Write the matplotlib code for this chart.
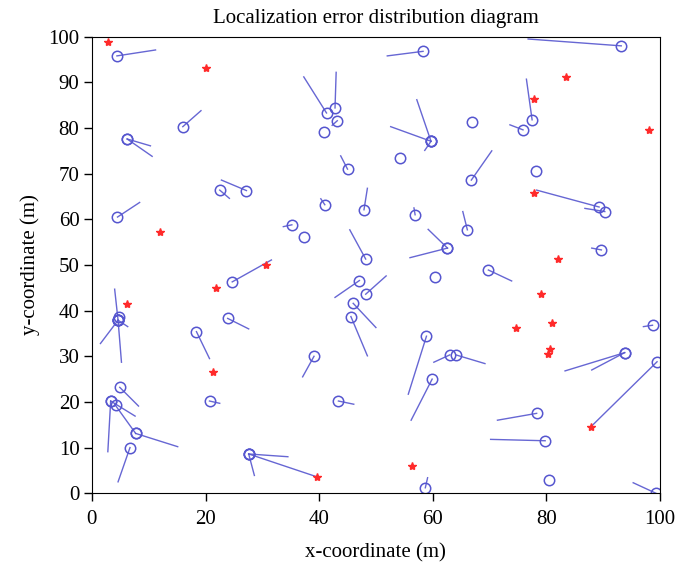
import matplotlib
matplotlib.use('Agg')
import matplotlib.pyplot as plt

# unknown nodes: true position -> estimated position (one entry per error line)
node_x = [4.4, 6.2, 6.2, 16.0, 58.3, 41.3, 42.8, 43.2, 40.8, 59.7, 59.7, 59.7, 54.3, 45.0, 67.0,
          66.8, 93.2, 77.5, 75.9, 78.1, 22.5, 27.2, 4.5, 24.7, 23.9, 4.6, 4.6, 4.6, 4.6, 4.8, 18.4,
          41.0, 47.9, 35.2, 37.3, 56.9, 66.1, 48.2, 62.6, 62.6, 60.4, 47.1, 48.2, 46.0, 45.6,
          58.9, 89.3, 90.3, 89.7, 69.8, 98.7, 4.9, 3.3, 3.3, 4.2, 7.7, 7.7, 6.7, 20.7, 27.6,
          27.6, 27.6, 39.1, 43.4, 59.9, 63.0, 64.1, 58.7, 93.8, 93.8, 99.5, 78.3, 79.8, 80.5, 99.3]
node_y = [95.8, 77.6, 77.6, 80.3, 96.8, 83.3, 84.4, 81.6, 79.2, 77.1, 77.1, 77.1, 73.5, 71.0, 81.4,
          68.6, 98.0, 81.8, 79.6, 70.5, 66.4, 66.3, 60.5, 46.3, 38.3, 37.9, 37.9, 37.9, 37.9, 38.5, 35.4,
          63.2, 62.1, 58.8, 56.2, 61.0, 57.7, 51.3, 53.7, 53.7, 47.4, 46.6, 43.6, 41.6, 38.7,
          34.4, 62.7, 61.7, 53.3, 48.9, 36.8, 23.2, 20.2, 20.2, 19.3, 13.1, 13.1, 10.0, 20.2, 8.6,
          8.6, 8.6, 30.0, 20.2, 25.0, 30.3, 30.3, 1.2, 30.8, 30.8, 28.8, 17.5, 11.5, 3.0, 0.0]
est_x = [11.2, 10.6, 10.3, 19.2, 52.0, 37.3, 43.0, 42.3, 40.8, 52.6, 57.2, 58.6, 54.3, 43.8, 67.0,
         70.4, 76.8, 76.5, 73.6, 78.1, 24.2, 22.8, 8.4, 31.6, 27.6, 4.0, 5.2, 1.5, 6.3, 4.8, 20.7,
         40.3, 48.5, 33.7, 37.3, 56.7, 65.3, 45.4, 59.2, 56.0, 60.4, 42.8, 51.8, 50.0, 48.5,
         55.7, 78.3, 86.8, 88.0, 73.9, 97.1, 8.2, 7.6, 2.8, 4.2, 4.0, 15.1, 4.6, 22.5, 34.5,
         39.6, 28.6, 37.1, 46.1, 56.2, 60.2, 69.2, 59.1, 83.3, 88.0, 87.8, 71.4, 70.2, 80.5, 95.3]
est_y = [97.1, 73.8, 76.1, 83.8, 95.8, 91.2, 92.2, 80.6, 79.2, 80.3, 86.2, 75.1, 73.5, 73.9, 81.4,
         75.0, 99.5, 90.7, 80.7, 70.5, 64.6, 68.6, 63.7, 51.1, 36.0, 44.7, 28.7, 32.8, 36.5, 38.5, 29.5,
         64.5, 66.8, 58.4, 56.2, 62.5, 61.7, 57.7, 57.8, 51.6, 47.4, 42.9, 47.6, 36.3, 30.1,
         21.7, 66.4, 62.4, 53.7, 46.5, 36.5, 19.1, 16.9, 9.1, 19.3, 19.5, 10.2, 2.5, 19.7, 8.0,
         3.6, 3.9, 25.5, 19.5, 16.0, 28.7, 28.4, 3.4, 26.8, 27.0, 14.5, 16.0, 11.8, 3.0, 2.3]

# anchor (beacon) nodes
anchor_x = [2.8, 20.0, 83.5, 77.9, 98.1, 11.9, 30.6, 21.8, 6.2, 77.9, 82.1, 79.0, 74.6, 81.0,
            80.6, 80.3, 21.3, 87.8, 39.6, 56.4]
anchor_y = [98.8, 93.2, 91.2, 86.4, 79.6, 57.2, 50.0, 44.9, 41.4, 65.7, 51.3, 43.6, 36.3, 37.3,
            31.5, 30.4, 26.6, 14.5, 3.6, 6.0]

blue = '#5656cf'
serif = ['Liberation Serif', 'DejaVu Serif']

fig = plt.figure(figsize=(6.81, 5.65), dpi=100)
ax = fig.add_axes([0.135, 0.127, 0.834, 0.808])

for x0, y0, x1, y1 in zip(node_x, node_y, est_x, est_y):
    ax.plot([x0, x1], [y0, y1], color=blue, lw=1.0, alpha=0.9)
ax.plot(node_x, node_y, 'o', mfc='none', mec=blue, ms=7.5, mew=1.1, ls='none')
ax.plot(anchor_x, anchor_y, '*', color='#ff2a2a', ms=6, ls='none')

ax.set_xlim(0, 100)
ax.set_ylim(0, 100)
ax.set_xticks(range(0, 101, 20))
ax.set_yticks(range(0, 101, 10))
ax.tick_params(direction='out', length=6, width=1.0, labelsize=15)
ax.tick_params(axis='x', pad=6)
ax.tick_params(axis='y', pad=3)
for lab in ax.get_xticklabels() + ax.get_yticklabels():
    lab.set_family(serif)
ax.set_title('Localization error distribution diagram', family=serif, fontsize=15, pad=10)
ax.set_xlabel('x-coordinate (m)', family=serif, fontsize=15, labelpad=10)
ax.set_ylabel('y-coordinate (m)', family=serif, fontsize=15, labelpad=6)

fig.savefig('out.png', dpi=100)
